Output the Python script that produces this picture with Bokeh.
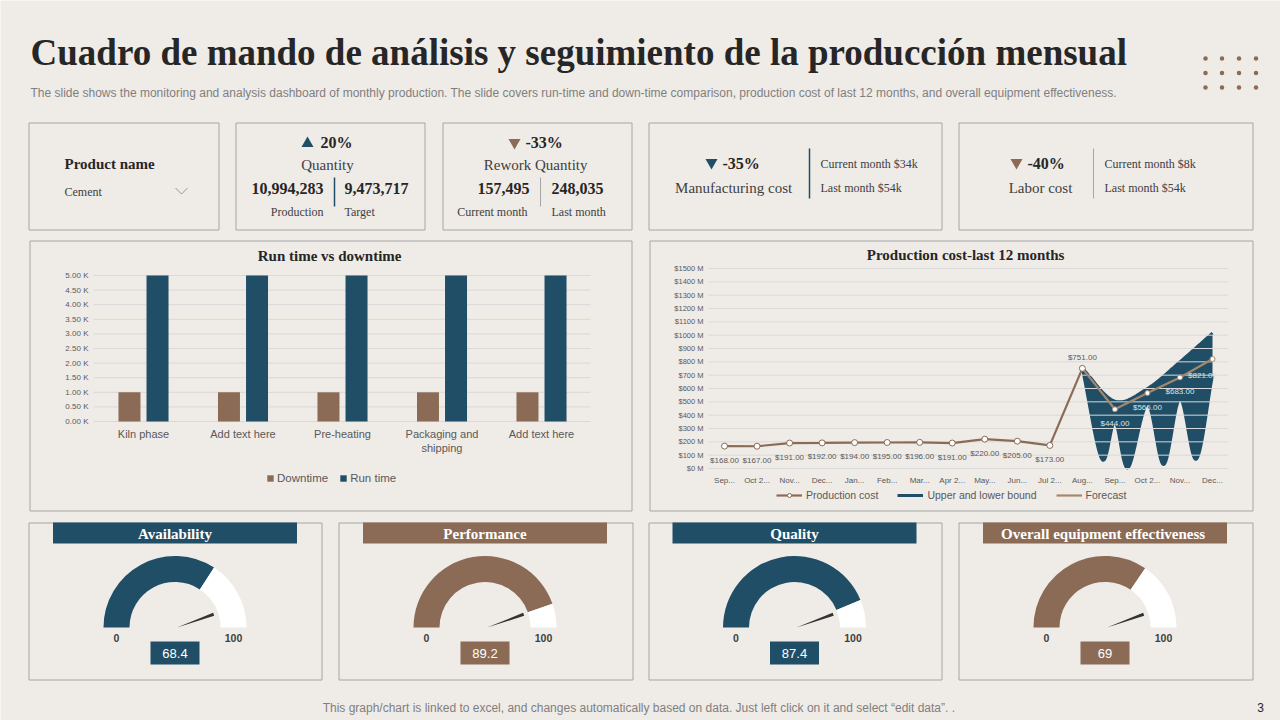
import numpy as np
from bokeh.plotting import figure
from bokeh.models import Range1d, LinearAxis, FixedTicker, Legend, LegendItem, ColumnDataSource
from bokeh.core.properties import value
from bokeh.transform import dodge
from bokeh.embed import file_html
from bokeh.resources import INLINE

# ---------------- data ----------------
stages = ["Kiln phase", "Add text here", "Pre-heating", "Packaging and\nshipping", "Add text here"]
downtime = [1000, 1000, 1000, 1000, 1000]
run_time = [5000, 5000, 5000, 5000, 5000]
bar_ticks = list(range(0, 5001, 500))

months = ["Sep...", "Oct 2...", "Nov...", "Dec...", "Jan...", "Feb...", "Mar...", "Apr 2...",
          "May...", "Jun...", "Jul 2...", "Aug...", "Sep...", "Oct 2...", "Nov...", "Dec..."]
production_cost = [168, 167, 191, 192, 194, 195, 196, 191, 220, 205, 173, 751]
forecast_month = [11, 12, 13, 14, 15]
forecast = [751, 444, 566, 683, 821]
upper_bound = [751, 505, 600, 800, 1015]
lower_bound_month = [11, 11.6, 12, 12.4, 13, 13.5, 14, 14.5, 15]
lower_bound = [751, 70, 348, 5, 480, 30, 522, 70, 700]
cost_ticks = list(range(0, 1501, 100))

gauge_titles = ["Availability", "Performance", "Quality", "Overall equipment  effectiveness"]
gauge_values = [68.4, 89.2, 87.4, 69]
needle_values = [89, 89, 89, 89]

quantity_change = "20%"
production_qty, target_qty = "10,994,283", "9,473,717"
rework_change = "-33%"
rework_current, rework_last = "157,495", "248,035"
mfg_change, mfg_current, mfg_last = "-35%", "$34k", "$54k"
labor_change, labor_current, labor_last = "-40%", "$8k", "$54k"

# ---------------- styles ----------------
W, H = 1280, 720
BG = "#EFEBE7"
BORDER = "#A6A6A6"
BLUE = "#1F4E66"
BROWN = "#8B6B56"
TAN = "#A3876F"
DARK = "#262626"
TXT = "#404040"
GRAY = "#595959"
LIGHT = "#7F7F7F"
GRID = "#D9D9D9"
SERIF = "Liberation Serif"
SANS = "Liberation Sans"


def lin_range(p0, v0, p1, v1, size, vertical=False):
    """Range whose values land on screen pixel p0 -> v0 and p1 -> v1."""
    k = (v1 - v0) / (p1 - p0)
    at_zero = v0 - p0 * k
    at_size = v0 + (size - p0) * k
    if vertical:
        return Range1d(start=at_size, end=at_zero)
    return Range1d(start=at_zero, end=at_size)


def smooth_path(xs, ys, steps=24):
    """Catmull-Rom path through the given points (smoothed line rendering)."""
    xs = np.asarray(xs, float)
    ys = np.asarray(ys, float)
    px = np.concatenate([[2 * xs[0] - xs[1]], xs, [2 * xs[-1] - xs[-2]]])
    py = np.concatenate([[2 * ys[0] - ys[1]], ys, [2 * ys[-1] - ys[-2]]])
    t = np.linspace(0, 1, steps, endpoint=False)
    out_x, out_y = [], []
    for i in range(1, len(px) - 2):
        for arr, out in ((px, out_x), (py, out_y)):
            a0, a1, a2, a3 = arr[i - 1], arr[i], arr[i + 1], arr[i + 2]
            out.extend(0.5 * ((2 * a1) + (-a0 + a2) * t + (2 * a0 - 5 * a1 + 4 * a2 - a3) * t ** 2
                              + (-a0 + 3 * a1 - 3 * a2 + a3) * t ** 3))
    out_x.append(xs[-1])
    out_y.append(ys[-1])
    return out_x, out_y


p = figure(width=W, height=H, x_range=Range1d(0, W), y_range=Range1d(H, 0),
           output_backend="svg", toolbar_location=None, min_border=0,
           x_axis_location=None, y_axis_location=None,
           background_fill_color=BG, border_fill_color=BG, outline_line_color=None)
p.xgrid.grid_line_color = None
p.ygrid.grid_line_color = None

p.extra_x_ranges = {"bar_x": lin_range(143, 0, 541, 4, W),
                    "cost_x": lin_range(724, 0, 1212, 15, W)}
p.extra_y_ranges = {"bar_y": lin_range(421, 0, 275, 5000, H, True),
                    "cost_y": lin_range(468, 0, 268, 1500, H, True)}


def txt(x, y, s, size, color=TXT, font=SANS, style="normal", align="left", baseline="middle"):
    p.text(x=[x], y=[y], text=[s], text_font=value(font), text_font_size=f"{size}px",
           text_color=color, text_font_style=style, text_align=align, text_baseline=baseline)


def style_axis(ax, size, color=GRAY, standoff=5):
    ax.axis_line_color = None
    ax.major_tick_line_color = None
    ax.minor_tick_line_color = None
    ax.major_tick_in = 0
    ax.major_tick_out = 0
    ax.minor_tick_in = 0
    ax.minor_tick_out = 0
    ax.major_label_text_font = SANS
    ax.major_label_text_font_size = size
    ax.major_label_text_color = color
    ax.major_label_standoff = standoff


# ---------------- header ----------------
txt(30, 52, "Cuadro de mando de análisis y seguimiento  de la producción  mensual", 37, DARK, SERIF, "bold")
txt(30, 92, "The slide shows the monitoring and analysis dashboard of monthly production. The slide covers "
            "run-time and down-time comparison, production cost of last 12 months, and overall equipment "
            "effectiveness.", 12, LIGHT)
dot_x = [1205, 1221.5, 1238.5, 1255.5]
dot_y = [58, 72.5, 87]
p.scatter(x=[x for _ in dot_y for x in dot_x], y=[y for y in dot_y for _ in dot_x],
          size=4.5, color=BROWN, line_color=None)

# ---------------- frames ----------------
p.quad(left=[28.5, 235.5, 442.5, 648.5, 958.5], right=[218.5, 424.5, 631.5, 941.5, 1252.5],
       top=122.5, bottom=229.5, fill_alpha=0, line_color=BORDER, line_width=1)
p.quad(left=[29.5, 649.5], right=[631.5, 1252.5], top=240.5, bottom=510.5,
       fill_alpha=0, line_color=BORDER, line_width=1)
p.quad(left=[28.5, 338.5, 648.5, 958.5], right=[321.5, 632.5, 941.5, 1252.5],
       top=522.5, bottom=679.5, fill_alpha=0, line_color=BORDER, line_width=1)

# ---------------- KPI cards ----------------
txt(64, 163, "Product  name", 15, DARK, SERIF, "bold")
txt(64, 191, "Cement", 12, TXT, SERIF)
p.line(x=[175, 181, 187], y=[187.5, 193.5, 187.5], color="#A89384", line_width=1)

p.scatter(x=[307], y=[143], marker="triangle", size=12, color=BLUE, line_color=None)
txt(320, 142, quantity_change, 16, DARK, SERIF, "bold")
txt(327, 164, "Quantity", 15, TXT, SERIF, align="center")
txt(323, 188, production_qty, 16, DARK, SERIF, "bold", align="right")
txt(344, 188, target_qty, 16, DARK, SERIF, "bold")
txt(323, 211, "Production", 12, TXT, SERIF, align="right")
txt(344, 211, "Target", 12, TXT, SERIF)
p.line(x=[334, 334], y=[177, 206], color=BLUE, line_width=1.5)

p.scatter(x=[514], y=[142], marker="inverted_triangle", size=12, color=BROWN, line_color=None)
txt(525, 142, rework_change, 16, DARK, SERIF, "bold")
txt(537, 164, "Rework  Quantity", 15, TXT, SERIF, align="center")
txt(529, 188, rework_current, 16, DARK, SERIF, "bold", align="right")
txt(551, 188, rework_last, 16, DARK, SERIF, "bold")
txt(527, 211, "Current month", 12, TXT, SERIF, align="right")
txt(551, 211, "Last month", 12, TXT, SERIF)
p.line(x=[540, 540], y=[177, 206], color=BORDER, line_width=1)

p.scatter(x=[711], y=[162], marker="inverted_triangle", size=12, color=BLUE, line_color=None)
txt(722, 163, mfg_change, 16, DARK, SERIF, "bold")
txt(735, 187, "Manufacturing  cost", 15, TXT, SERIF, align="center")
p.line(x=[809, 809], y=[148, 198], color=BLUE, line_width=1.5)
txt(820, 163, "Current month " + mfg_current, 12, TXT, SERIF)
txt(820, 187, "Last month " + mfg_last, 12, TXT, SERIF)

p.scatter(x=[1016], y=[162], marker="inverted_triangle", size=12, color=BROWN, line_color=None)
txt(1027, 163, labor_change, 16, DARK, SERIF, "bold")
txt(1040, 187, "Labor cost", 15, TXT, SERIF, align="center")
p.line(x=[1093, 1093], y=[148, 198], color=BORDER, line_width=1)
txt(1104, 163, "Current month " + labor_current, 12, TXT, SERIF)
txt(1104, 187, "Last month " + labor_last, 12, TXT, SERIF)

# ---------------- run time vs downtime ----------------
txt(331, 255, "Run time  vs downtime", 15, DARK, SERIF, "bold", align="center")
p.segment(x0=93, x1=590, y0=bar_ticks, y1=bar_ticks, y_range_name="bar_y", color=GRID, line_width=1)
bar_src = ColumnDataSource(dict(idx=list(range(len(stages))), downtime=downtime, run=run_time))
r_down = p.vbar(x=dodge("idx", -0.141), top="downtime", width=0.221, source=bar_src,
                x_range_name="bar_x", y_range_name="bar_y", fill_color=BROWN, line_color=None)
r_run = p.vbar(x=dodge("idx", 0.141), top="run", width=0.221, source=bar_src,
               x_range_name="bar_x", y_range_name="bar_y", fill_color=BLUE, line_color=None)

bar_yaxis = LinearAxis(y_range_name="bar_y", fixed_location=93, ticker=FixedTicker(ticks=bar_ticks),
                       major_label_overrides={t: f"{t / 1000:.2f} K" for t in bar_ticks})
style_axis(bar_yaxis, "8px")
p.add_layout(bar_yaxis, "left")
bar_xaxis = LinearAxis(x_range_name="bar_x", fixed_location=421,
                       ticker=FixedTicker(ticks=list(range(len(stages)))),
                       major_label_overrides={i: s for i, s in enumerate(stages)})
style_axis(bar_xaxis, "11px", standoff=6)
p.add_layout(bar_xaxis, "below")

bar_legend = Legend(items=[LegendItem(label="Downtime", renderers=[r_down]),
                           LegendItem(label="Run time", renderers=[r_run])],
                    location=(266, H - 484), orientation="horizontal",
                    background_fill_alpha=0, border_line_color=None, padding=0, margin=0,
                    spacing=11, glyph_width=8, glyph_height=8, label_standoff=3, label_height=12,
                    label_text_font=SANS, label_text_font_size="11.5px", label_text_color=GRAY)
p.add_layout(bar_legend, "center")

# ---------------- production cost ----------------
txt(967, 254, "Production  cost-last 12 months", 15, DARK, SERIF, "bold", align="center")

ux, uy = smooth_path(forecast_month, upper_bound)
lx, ly = smooth_path(lower_bound_month, lower_bound)
p.patch(x=ux + lx[::-1], y=uy + ly[::-1], x_range_name="cost_x", y_range_name="cost_y",
        fill_color=BLUE, line_color=None)
r_bound = p.multi_line(xs=[ux, lx], ys=[uy, ly], x_range_name="cost_x", y_range_name="cost_y",
                       color=BLUE, line_width=3)
p.segment(x0=708, x1=1228, y0=cost_ticks, y1=cost_ticks, y_range_name="cost_y", color=GRID, line_width=1)

hist_idx = list(range(len(production_cost)))
r_fc = p.line(x=forecast_month, y=forecast, x_range_name="cost_x", y_range_name="cost_y",
              color=TAN, line_width=2.2)
p.scatter(x=forecast_month[1:], y=forecast[1:], x_range_name="cost_x", y_range_name="cost_y",
          size=5, fill_color="white", line_color=TAN, line_width=1)
r_pc = p.line(x=hist_idx, y=production_cost, x_range_name="cost_x", y_range_name="cost_y",
              color=BROWN, line_width=2.2)
r_pcm = p.scatter(x=hist_idx, y=production_cost, x_range_name="cost_x", y_range_name="cost_y",
                  size=6, fill_color="white", line_color=BROWN, line_width=1)

label_kw = dict(x_range_name="cost_x", y_range_name="cost_y", text_font=value(SANS),
                text_font_size="8px", text_align="center", text_baseline="middle")
p.text(x=hist_idx[:-1], y=production_cost[:-1], text=[f"${v:.2f}" for v in production_cost[:-1]],
       y_offset=14, text_color=GRAY, **label_kw)
p.text(x=hist_idx[-1:], y=production_cost[-1:], text=[f"${production_cost[-1]:.2f}"],
       y_offset=-11, text_color=GRAY, **label_kw)
p.text(x=forecast_month[1:4], y=forecast[1:4], text=[f"${v:.2f}" for v in forecast[1:4]],
       y_offset=14, text_color="#DCE4EA", **label_kw)
p.text(x=forecast_month[4:], y=forecast[4:], text=[f"${v:.2f}" for v in forecast[4:]],
       x_offset=-10, y_offset=16, text_color="#DCE4EA", **label_kw)

cost_yaxis = LinearAxis(y_range_name="cost_y", fixed_location=708, ticker=FixedTicker(ticks=cost_ticks),
                        major_label_overrides={t: f"${t} M" for t in cost_ticks})
style_axis(cost_yaxis, "7.5px")
p.add_layout(cost_yaxis, "left")
cost_xaxis = LinearAxis(x_range_name="cost_x", fixed_location=468,
                        ticker=FixedTicker(ticks=list(range(len(months)))),
                        major_label_overrides={i: m for i, m in enumerate(months)})
style_axis(cost_xaxis, "8px", standoff=7)
p.add_layout(cost_xaxis, "below")

cost_legend = Legend(items=[LegendItem(label="Production cost", renderers=[r_pc, r_pcm]),
                            LegendItem(label="Upper and lower bound", renderers=[r_bound]),
                            LegendItem(label="Forecast", renderers=[r_fc])],
                     location=(776, H - 501), orientation="horizontal",
                     background_fill_alpha=0, border_line_color=None, padding=0, margin=0,
                     spacing=19, glyph_width=26, glyph_height=10, label_standoff=4, label_height=12,
                     label_text_font=SANS, label_text_font_size="10.5px", label_text_color=GRAY)
p.add_layout(cost_legend, "center")

# ---------------- gauges ----------------
gauge_cx = [174.5, 484.5, 794, 1104.5]
bar_half = 122
for i, (title, val, needle) in enumerate(zip(gauge_titles, gauge_values, needle_values)):
    col = BLUE if i % 2 == 0 else BROWN
    cx, cy = gauge_cx[i], 627
    p.quad(left=cx - bar_half, right=cx + bar_half, top=522, bottom=543, fill_color=col, line_color=None)
    txt(cx, 533, title, 15, "white", SERIF, "bold", align="center")
    split = np.pi * (1 - val / 100)
    p.annular_wedge(x=cx, y=cy, inner_radius=45.5, outer_radius=71.5, inner_radius_units="screen",
                    outer_radius_units="screen", start_angle=split, end_angle=np.pi,
                    fill_color=col, line_color=None)
    p.annular_wedge(x=cx, y=cy, inner_radius=45.5, outer_radius=71.5, inner_radius_units="screen",
                    outer_radius_units="screen", start_angle=0, end_angle=split,
                    fill_color="white", line_color=None)
    na = np.pi * (1 - needle / 100)
    p.wedge(x=cx + 2, y=cy, radius=39, radius_units="screen", start_angle=na - 0.04,
            end_angle=na + 0.04, fill_color="#333333", line_color=None)
    txt(cx - 58.5, 637, "0", 10.5, TXT, SANS, "bold", align="center")
    txt(cx + 58.5, 637, "100", 10.5, TXT, SANS, "bold", align="center")
    p.quad(left=cx - 24.5, right=cx + 24.5, top=641, bottom=664, fill_color=col, line_color=None)
    txt(cx, 652.5, f"{val:g}", 13, "white", SANS, align="center")

# ---------------- footer ----------------
txt(640, 707, "This graph/chart is linked to excel,  and changes automatically based on data. "
              "Just left click on it and select \u201cedit data\u201d. .", 12, LIGHT, align="center")
txt(1260, 707, "3", 12, DARK, SANS, align="center")

open("out.html", "w").write(file_html(p, INLINE))
